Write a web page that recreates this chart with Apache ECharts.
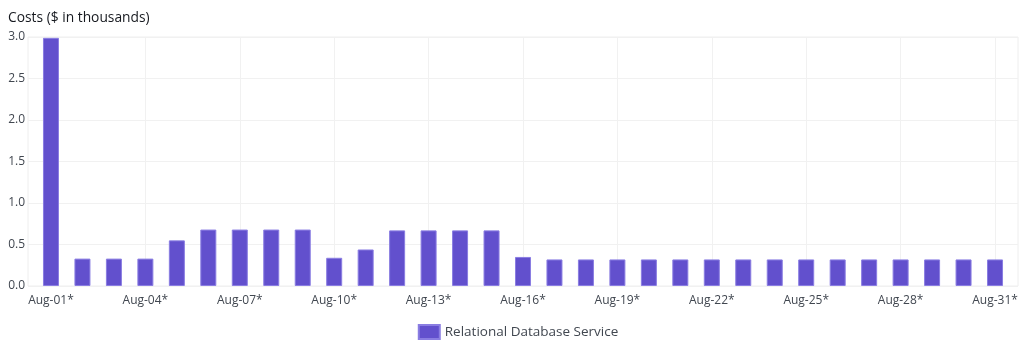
<!DOCTYPE html>
<html>
<head>
<meta charset="utf-8">
<script src="https://cdn.jsdelivr.net/npm/echarts@6/dist/echarts.min.js"></script>
<style>
  html, body { margin: 0; padding: 0; background: #fff; }
  #chart { width: 1036px; height: 354px; }
</style>
</head>
<body>
<div id="chart"></div>
<script>
// daily cost data, $ in thousands
var days = ['Aug-01*', 'Aug-02*', 'Aug-03*', 'Aug-04*', 'Aug-05*', 'Aug-06*', 'Aug-07*', 'Aug-08*',
  'Aug-09*', 'Aug-10*', 'Aug-11*', 'Aug-12*', 'Aug-13*', 'Aug-14*', 'Aug-15*', 'Aug-16*',
  'Aug-17*', 'Aug-18*', 'Aug-19*', 'Aug-20*', 'Aug-21*', 'Aug-22*', 'Aug-23*', 'Aug-24*',
  'Aug-25*', 'Aug-26*', 'Aug-27*', 'Aug-28*', 'Aug-29*', 'Aug-30*', 'Aug-31*']
var rdsCosts = [2.99, 0.33, 0.33, 0.33, 0.55, 0.68, 0.68, 0.68,
  0.68, 0.34, 0.44, 0.67, 0.67, 0.67, 0.67, 0.35,
  0.32, 0.32, 0.32, 0.32, 0.32, 0.32, 0.32, 0.32,
  0.32, 0.32, 0.32, 0.32, 0.32, 0.32, 0.32]
var labelDays = [0, 3, 6, 9, 12, 15, 18, 21, 24, 27, 30]
var seriesName = 'Relational Database Service'

var font = '"Open Sans", "Noto Sans", sans-serif'
var chart = echarts.init(document.getElementById('chart'))
chart.setOption({
  animation: false,
  textStyle: { fontFamily: font },
  title: {
    text: 'Costs ($ in thousands)',
    left: 3,
    top: 6,
    textStyle: { fontSize: 13.8, fontWeight: 'normal', color: '#16191f', fontFamily: font }
  },
  grid: { left: 28, right: 18, top: 37, bottom: 68, show: true, borderColor: '#eeeeee', borderWidth: 1 },
  legend: {
    bottom: 9,
    left: 'center',
    icon: 'rect',
    itemWidth: 21,
    itemHeight: 14,
    itemGap: 6,
    textStyle: { fontSize: 13.5, color: '#414750', fontFamily: font },
    data: [seriesName]
  },
  xAxis: {
    type: 'value',
    min: -0.73,
    max: 30.73,
    axisLine: { show: false },
    axisTick: { show: false, customValues: labelDays },
    axisLabel: {
      customValues: labelDays,
      color: '#414750',
      fontSize: 12,
      margin: 9,
      formatter: function(v) { return days[Math.round(v)] }
    },
    splitLine: { show: true, lineStyle: { color: '#f1f1f1' } }
  },
  yAxis: {
    type: 'value',
    min: 0,
    max: 3,
    interval: 0.5,
    axisLine: { show: false },
    axisTick: { show: false },
    axisLabel: {
      color: '#414750',
      fontSize: 12,
      margin: 3,
      formatter: function(v) { return v.toFixed(1) }
    },
    splitLine: { lineStyle: { color: '#f1f1f1' } }
  },
  series: [
    {
      name: seriesName,
      type: 'bar',
      barWidth: 16,
      itemStyle: { color: '#6250cd', borderColor: '#8a7de2', borderWidth: 1 },
      data: rdsCosts.map(function(v, i) { return [i, v] })
    }
  ]
})
</script>
</body>
</html>
